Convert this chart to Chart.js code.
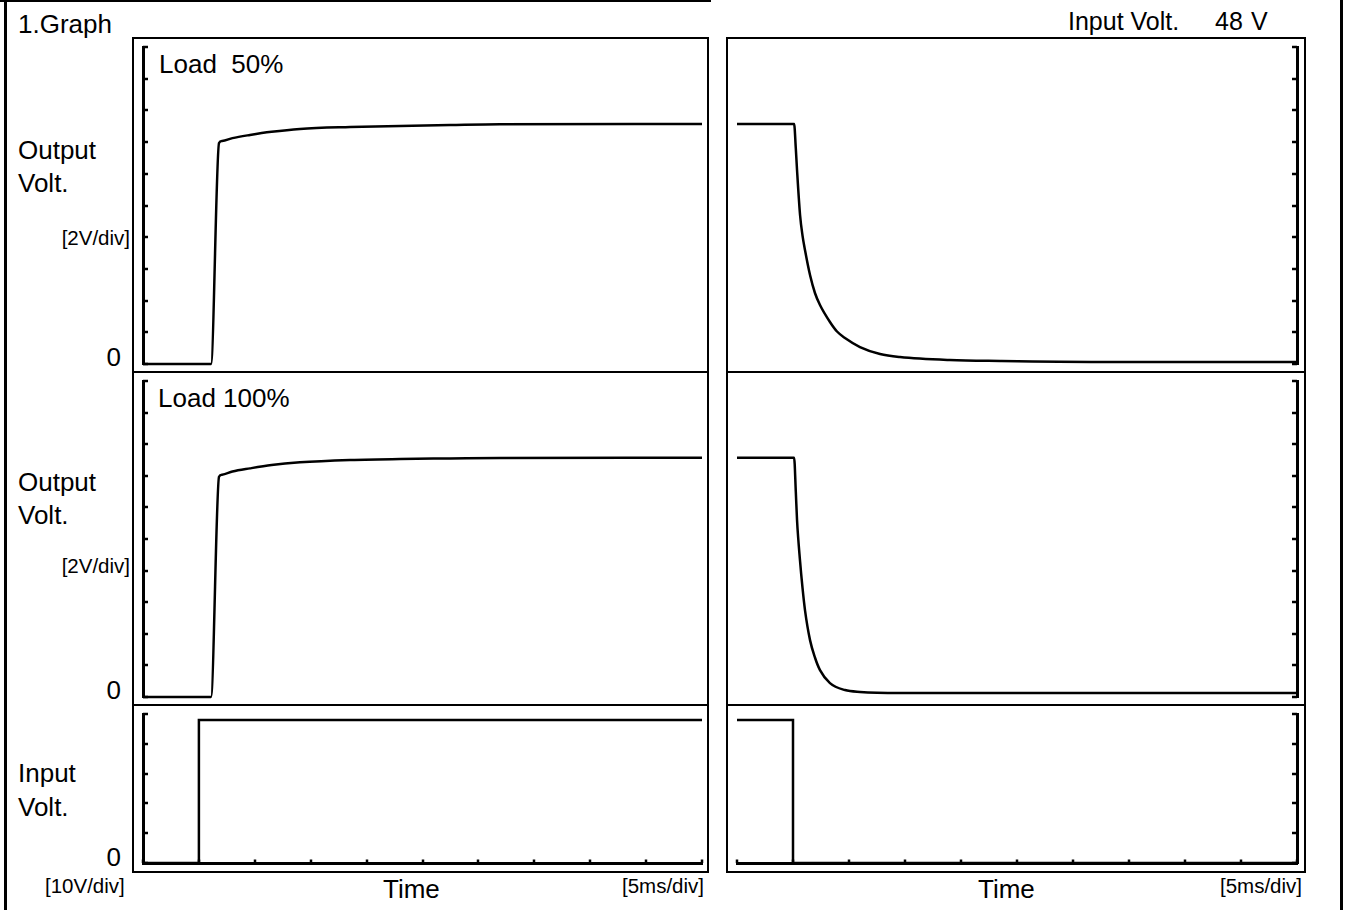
<!DOCTYPE html>
<html>
<head>
<meta charset="utf-8">
<script src="https://cdn.jsdelivr.net/npm/chart.js@4.4.1/dist/chart.umd.min.js"></script>
<style>
body { margin: 0; background: #fff; }
#page { position: relative; width: 1346px; height: 910px; overflow: hidden;
        font-family: "Liberation Sans", Arial, sans-serif; color: #000; }
.box { position: absolute; border: 2px solid #000; box-sizing: border-box; }
.rule { position: absolute; background: #000; }
.t { position: absolute; white-space: pre; line-height: 1; font-size: 26px; }
.s { font-size: 20.5px; }
.r { text-align: right; }
canvas { position: absolute; left: 0; top: 0; }
</style>
</head>
<body>
<div id="page">
  <!-- outer frame -->
  <div class="rule" style="left:4px;top:0;width:3px;height:910px"></div>
  <div class="rule" style="left:0;top:0;width:711px;height:2px"></div>
  <div class="rule" style="left:1340px;top:0;width:3px;height:910px"></div>

  <!-- panel boxes -->
  <div class="box" style="left:132px;top:37px;width:577px;height:336px"></div>
  <div class="box" style="left:132px;top:371px;width:577px;height:335px"></div>
  <div class="box" style="left:132px;top:704px;width:577px;height:169px"></div>
  <div class="box" style="left:726px;top:37px;width:580px;height:336px"></div>
  <div class="box" style="left:726px;top:371px;width:580px;height:335px"></div>
  <div class="box" style="left:726px;top:704px;width:580px;height:169px"></div>

  <!-- texts -->
  <div class="t" style="left:18px;top:11px">1.Graph</div>
  <div class="t" style="left:1068px;top:9px;font-size:25px">Input Volt.</div>
  <div class="t" style="left:1215px;top:9px;font-size:25px">48</div>
  <div class="t" style="left:1251px;top:9px;font-size:25px">V</div>

  <div class="t" style="left:159px;top:51px">Load  50%</div>
  <div class="t" style="left:158px;top:385px">Load 100%</div>

  <div class="t" style="left:18px;top:137px">Output</div>
  <div class="t" style="left:18px;top:170px">Volt.</div>
  <div class="t s r" style="right:1216px;top:228px">[2V/div]</div>
  <div class="t r" style="right:1225px;top:344px">0</div>

  <div class="t" style="left:18px;top:469px">Output</div>
  <div class="t" style="left:18px;top:502px">Volt.</div>
  <div class="t s r" style="right:1216px;top:556px">[2V/div]</div>
  <div class="t r" style="right:1225px;top:677px">0</div>

  <div class="t" style="left:18px;top:760px">Input</div>
  <div class="t" style="left:18px;top:794px">Volt.</div>
  <div class="t r" style="right:1225px;top:844px">0</div>
  <div class="t s" style="left:45px;top:876px">[10V/div]</div>

  <div class="t" style="left:383px;top:876px">Time</div>
  <div class="t s r" style="right:642px;top:876px">[5ms/div]</div>
  <div class="t" style="left:978px;top:876px">Time</div>
  <div class="t s r" style="right:44px;top:876px">[5ms/div]</div>

  <canvas id="c1" width="1346" height="910"></canvas>
  <canvas id="c2" width="1346" height="910"></canvas>
  <canvas id="c3" width="1346" height="910"></canvas>
  <canvas id="c4" width="1346" height="910"></canvas>
  <canvas id="c5" width="1346" height="910"></canvas>
  <canvas id="c6" width="1346" height="910"></canvas>
</div>

<script>
// scale settings (5 ms/div, 2 V/div output, 10 V/div input)
const timeMax = 50, timeStep = 5;
const outMax = 20, outStep = 2;
const inMax = 50, inStep = 10;

// start-up (left column), time in ms, volts
const onTime50 = [0, 6.08, 6.8, 7.07, 8.0, 9.57, 11.5, 14.04, 18.52, 22.99, 27.46, 31.93, 50];
const onVolt50 = [0, 0, 13.94, 14.07, 14.25, 14.45, 14.65, 14.83, 14.95, 15.02, 15.08, 15.13, 15.14];
const onTime100 = [0, 6.08, 6.8, 7.07, 8.0, 9.57, 11.5, 14.04, 18.52, 22.99, 27.46, 31.93, 50];
const onVolt100 = [0, 0, 13.94, 14.07, 14.27, 14.47, 14.68, 14.85, 15.0, 15.07, 15.1, 15.13, 15.14];
const inOnTime = [0, 5.0, 5.0, 50];
const inOnVolt = [0, 0, 48, 48];

// shut-down (right column)
const offTime50 = [0, 5.1, 5.25, 5.36, 5.63, 5.85, 6.07, 6.52, 6.96, 7.41, 8.3, 8.93, 9.64, 10.98, 12.77, 14.55, 19.0, 23.5, 32.4, 50];
const offVolt50 = [15.14, 15.14, 13.6, 12.24, 9.4, 8.1, 7.19, 5.61, 4.48, 3.72, 2.65, 2.05, 1.64, 1.07, 0.63, 0.44, 0.25, 0.19, 0.13, 0.13];
const offTime100 = [0, 5.1, 5.25, 5.36, 5.63, 5.85, 6.07, 6.52, 6.96, 7.41, 8.3, 9.64, 10.98, 14.55, 50];
const offVolt100 = [15.14, 15.14, 13.0, 11.2, 8.6, 6.9, 5.5, 3.6, 2.5, 1.7, 0.88, 0.44, 0.32, 0.25, 0.25];
const inOffTime = [0, 5.0, 5.0, 50];
const inOffVolt = [48, 48, 0, 0];

const W = 1346, H = 910;

// ticks drawn inward, like the scope graticule
const inwardTicks = {
    id: 'inwardTicks',
    afterDraw(chart) {
        const ctx = chart.ctx, a = chart.chartArea;
        ctx.save();
        ctx.strokeStyle = '#000';
        ctx.lineWidth = 2.5;
        Object.values(chart.scales).forEach(s => {
            if (!s.options.display) return;
            s.ticks.forEach((t, i) => {
                const p = Math.round(s.getPixelForTick(i));
                ctx.beginPath();
                if (s.axis === 'x') { ctx.moveTo(p, a.bottom); ctx.lineTo(p, a.bottom - 3.5); }
                else if (s.position === 'left') { ctx.moveTo(a.left, p); ctx.lineTo(a.left + 5, p); }
                else { ctx.moveTo(a.right, p); ctx.lineTo(a.right - 5, p); }
                ctx.stroke();
            });
        });
        ctx.restore();
    }
};

function makePanel(id, xs, ys, area, yMax, yStep, ySide, isInput) {
    const pts = xs.map((x, i) => ({ x: x, y: ys[i] }));
    const axisCommon = {
        type: 'linear',
        grid: { display: false, drawTicks: false },
        ticks: { display: false },
        border: { display: true, color: '#000', width: 3 }
    };
    new Chart(document.getElementById(id), {
        type: 'line',
        data: { datasets: [{ data: pts, borderColor: '#000', borderWidth: 2.5, pointRadius: 0,
                             tension: 0, cubicInterpolationMode: isInput ? 'default' : 'monotone',
                             fill: false, clip: false }] },
        options: {
            responsive: false, animation: false, devicePixelRatio: 1,
            layout: { padding: { left: area[0], right: W - area[1], top: area[2], bottom: H - area[3] } },
            plugins: { legend: { display: false }, tooltip: { enabled: false } },
            events: [],
            scales: {
                x: Object.assign({}, axisCommon, { display: isInput, min: 0, max: timeMax,
                    ticks: { display: false, stepSize: timeStep } }),
                y: Object.assign({}, axisCommon, { position: ySide, min: 0, max: yMax,
                    ticks: { display: false, stepSize: yStep } })
            }
        },
        plugins: [inwardTicks]
    });
}

// chart areas: [left, right, top, bottom]
makePanel('c1', onTime50, onVolt50, [143, 702, 47, 364], outMax, outStep, 'left', false);
makePanel('c2', onTime100, onVolt100, [143, 702, 381, 697], outMax, outStep, 'left', false);
makePanel('c3', inOnTime, inOnVolt, [143, 702, 714, 863], inMax, inStep, 'left', true);
makePanel('c4', offTime50, offVolt50, [737, 1297, 47, 364], outMax, outStep, 'right', false);
makePanel('c5', offTime100, offVolt100, [737, 1297, 381, 697], outMax, outStep, 'right', false);
makePanel('c6', inOffTime, inOffVolt, [737, 1297, 714, 863], inMax, inStep, 'right', true);
</script>
</body>
</html>
